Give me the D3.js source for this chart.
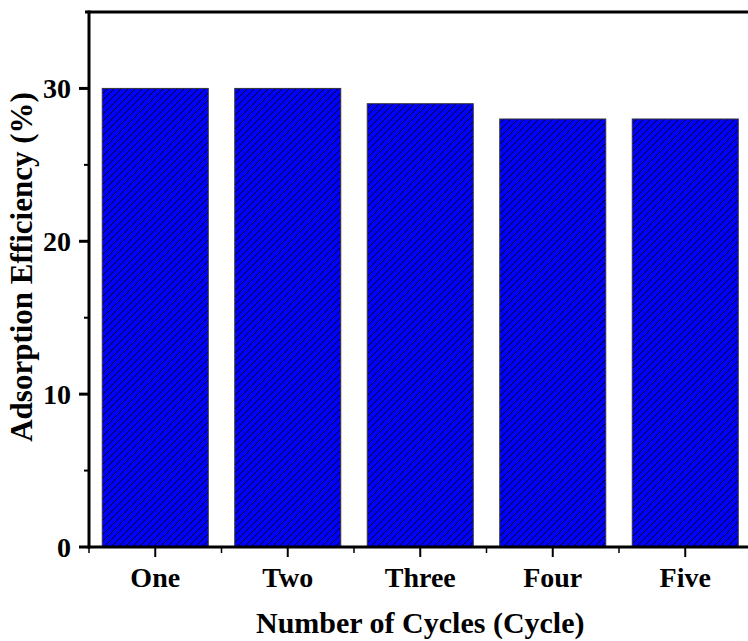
<!DOCTYPE html>
<html>
<head>
<meta charset="utf-8">
<script src="https://cdn.jsdelivr.net/npm/d3@7"></script>
<style>
  body { margin: 0; background: #fff; overflow: hidden; }
  svg { display: block; font-family: "Liberation Serif", "Times New Roman", serif; font-weight: bold; }
</style>
</head>
<body>
<svg width="748" height="641"></svg>
<script>
// values
var cycles = ["One", "Two", "Three", "Four", "Five"];
var efficiency = [30, 30, 29, 28, 28];
var yTicks = [0, 10, 20, 30];
var yMinor = [5, 15, 25];

var svg = d3.select("svg");

// plot box (right side runs off the page like the original)
var plotL = 89, plotR = 751.5, plotT = 12, plotB = 547;

var x = d3.scaleLinear().domain([0.5, 5.5]).range([plotL, plotR]);
var y = d3.scaleLinear().domain([0, 35]).range([plotB, plotT]);
var barW = (x(2) - x(1)) * 0.8;

// hatch fill
var defs = svg.append("defs");
var pat = defs.append("pattern")
    .attr("id", "hatch")
    .attr("patternUnits", "userSpaceOnUse")
    .attr("width", 7).attr("height", 7);
pat.append("rect").attr("width", 7).attr("height", 7).attr("fill", "#0000ff");
pat.append("path")
    .attr("d", "M-1,1 l2,-2 M0,7 l7,-7 M6,8 l2,-2")
    .attr("stroke", "#000").attr("stroke-width", 0.9);

// bars
svg.append("g").selectAll("rect")
    .data(efficiency)
    .enter().append("rect")
    .attr("x", function(d, i) { return x(i + 1) - barW / 2; })
    .attr("y", function(d) { return y(d); })
    .attr("width", barW)
    .attr("height", function(d) { return y(0) - y(d); })
    .attr("fill", "url(#hatch)")
    .attr("stroke", "#333")
    .attr("stroke-width", 1);

// top frame line
svg.append("line")
    .attr("x1", plotL - 4).attr("x2", 760)
    .attr("y1", plotT).attr("y2", plotT)
    .attr("stroke", "#000").attr("stroke-width", 3);

// y axis
var yAxis = svg.append("g").attr("transform", "translate(" + plotL + ",0)");
yAxis.append("line")
    .attr("x1", 0).attr("x2", 0)
    .attr("y1", plotT - 1.5).attr("y2", plotB + 1.5)
    .attr("stroke", "#000").attr("stroke-width", 3);
yAxis.selectAll(".major").data(yTicks).enter().append("line")
    .attr("x1", -10).attr("x2", 0)
    .attr("y1", function(d) { return y(d); })
    .attr("y2", function(d) { return y(d); })
    .attr("stroke", "#000").attr("stroke-width", 3);
yAxis.selectAll(".minor").data(yMinor).enter().append("line")
    .attr("x1", -5).attr("x2", 0)
    .attr("y1", function(d) { return y(d); })
    .attr("y2", function(d) { return y(d); })
    .attr("stroke", "#000").attr("stroke-width", 2);
yAxis.selectAll("text").data(yTicks).enter().append("text")
    .attr("x", -18)
    .attr("y", function(d) { return y(d); })
    .attr("dy", "0.34em")
    .attr("text-anchor", "end")
    .attr("font-size", 28)
    .text(function(d) { return d; });

// x axis
var xAxis = svg.append("g").attr("transform", "translate(0," + plotB + ")");
xAxis.append("line")
    .attr("x1", plotL - 1.5).attr("x2", 760)
    .attr("y1", 0).attr("y2", 0)
    .attr("stroke", "#000").attr("stroke-width", 3);
xAxis.selectAll(".major").data(cycles).enter().append("line")
    .attr("x1", function(d, i) { return x(i + 1); })
    .attr("x2", function(d, i) { return x(i + 1); })
    .attr("y1", 0).attr("y2", 10)
    .attr("stroke", "#000").attr("stroke-width", 2);
xAxis.selectAll(".minor").data(d3.range(0, 6)).enter().append("line")
    .attr("x1", function(d) { return x(d + 0.5); })
    .attr("x2", function(d) { return x(d + 0.5); })
    .attr("y1", 0).attr("y2", 6)
    .attr("stroke", "#000").attr("stroke-width", 1.5);
xAxis.selectAll("text").data(cycles).enter().append("text")
    .attr("x", function(d, i) { return x(i + 1); })
    .attr("y", 40)
    .attr("text-anchor", "middle")
    .attr("font-size", 28)
    .text(function(d) { return d; });

// axis titles
svg.append("text")
    .attr("x", (plotL + plotR) / 2)
    .attr("y", 633)
    .attr("text-anchor", "middle")
    .attr("font-size", 30)
    .text("Number of Cycles (Cycle)");

svg.append("text")
    .attr("transform", "translate(32,267) rotate(-90)")
    .attr("text-anchor", "middle")
    .attr("font-size", 31)
    .text("Adsorption Efficiency (%)");
</script>
</body>
</html>
